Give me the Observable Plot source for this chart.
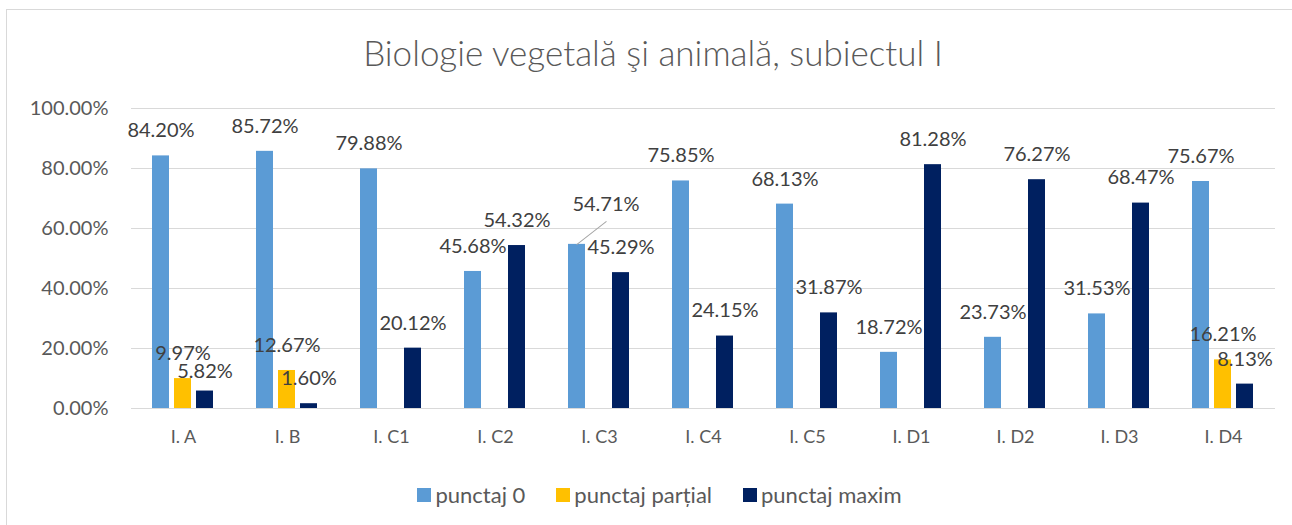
<!DOCTYPE html>
<html>
<head>
<meta charset="utf-8">
<script src="https://cdn.jsdelivr.net/npm/d3@7"></script>
<script src="https://cdn.jsdelivr.net/npm/@observablehq/plot@0.6"></script>
<style>
  html, body { margin: 0; padding: 0; background: #fff; width: 1292px; height: 525px; overflow: hidden; }
  body { position: relative; font-family: Lato, "Open Sans", sans-serif; }
  #frame { position: absolute; left: 6px; top: 9px; width: 1300px; height: 530px; border: 1px solid #d9d9d9; box-sizing: border-box; }
  #title { position: absolute; left: 7px; width: 1292px; top: 33px; text-align: center; font-size: 35px; font-weight: 300; color: #595959; line-height: 39px; white-space: nowrap; }
  #chart { position: absolute; left: 0; top: 80px; }
  #legend { position: absolute; top: 482px; left: 0; width: 1319px; display: flex; justify-content: center; gap: 31px; font-size: 22px; color: #595959; line-height: 26px; }
  .item { display: flex; align-items: center; gap: 4px; }
  .sw { width: 14px; height: 14px; display: inline-block; }
</style>
</head>
<body>
<div id="frame"></div>
<div id="title">Biologie vegetală şi animală, subiectul I</div>
<div id="chart"></div>
<div id="legend"></div>
<script>
// ---- data ----
const categories = ["I. A", "I. B", "I. C1", "I. C2", "I. C3", "I. C4", "I. C5", "I. D1", "I. D2", "I. D3", "I. D4"];
const seriesNames = ["punctaj 0", "punctaj parțial", "punctaj maxim"];
const punctaj0 = [84.20, 85.72, 79.88, 45.68, 54.71, 75.85, 68.13, 18.72, 23.73, 31.53, 75.67];
const punctajPartial = [9.97, 12.67, null, null, null, null, null, null, null, null, 16.21];
const punctajMaxim = [5.82, 1.60, 20.12, 54.32, 45.29, 24.15, 31.87, 81.28, 76.27, 68.47, 8.13];
const yTicks = [0, 20, 40, 60, 80, 100];
const colors = ["#5B9BD5", "#FFC000", "#002060"];

// ---- table ----
const seriesValues = [punctaj0, punctajPartial, punctajMaxim];
const table = [];
categories.forEach((c, i) => {
  seriesNames.forEach((s, j) => {
    table.push({category: c, series: s, value: seriesValues[j][i]});
  });
});
const shown = table.filter(d => d.value != null);
const fmt = v => v.toFixed(2) + "%";

// label nudges (pixel offsets) for labels moved in the original
const nudges = {"I. A|punctaj maxim": [0, -19], "I. C3|punctaj 0": [29, -40]};
const key = d => d.category + "|" + d.series;

const labelFont = 20;
const marks = [
  Plot.gridY(yTicks, {stroke: "#d9d9d9", strokeOpacity: 1, strokeWidth: 1}),
  Plot.barY(shown, {fx: "category", x: "series", y: "value", fill: "series"}),
  Plot.text(shown.filter(d => !(key(d) in nudges)), {
    fx: "category", x: "series", y: "value", text: d => fmt(d.value),
    dy: -25, lineAnchor: "middle", fontSize: labelFont, fill: "#404040"
  })
];
for (const [k, [dx, dy]] of Object.entries(nudges)) {
  marks.push(Plot.text(shown.filter(d => key(d) === k), {
    fx: "category", x: "series", y: "value", text: d => fmt(d.value),
    dx, dy, lineAnchor: "middle", fontSize: labelFont, fill: "#404040"
  }));
}
// leader line for the moved C3 label
marks.push(Plot.vector(shown.filter(d => key(d) === "I. C3|punctaj 0"), {
  fx: "category", x: "series", y: "value", length: 37, rotate: 52, anchor: "start",
  stroke: "#a6a6a6", strokeWidth: 1,
  shape: {draw(context, l) { context.moveTo(0, 0); context.lineTo(0, -l); }}
}));
marks.push(Plot.axisY(yTicks, {
  tickSize: 0, tickPadding: 23, tickFormat: fmt, fontSize: 20, fill: "#595959", label: null
}));
marks.push(Plot.axisFx({anchor: "bottom", tickSize: 0, tickPadding: 22, fontSize: 18, fill: "#595959", label: null}));

const chart = Plot.plot({
  width: 1292,
  height: 370,
  marginLeft: 130,
  marginRight: 17,
  marginTop: 28,
  marginBottom: 42,
  style: {fontFamily: "Lato, 'Open Sans', sans-serif", background: "transparent", overflow: "visible"},
  fx: {domain: categories, padding: 0, label: null},
  x: {domain: seriesNames, paddingInner: 0.21, paddingOuter: 0.89, axis: null},
  y: {domain: [0, 100], label: null},
  color: {domain: seriesNames, range: colors},
  marks
});
document.getElementById("chart").appendChild(chart);

// legend
const legend = document.getElementById("legend");
seriesNames.forEach((s, i) => {
  const item = document.createElement("div");
  item.className = "item";
  const sw = document.createElement("span");
  sw.className = "sw";
  sw.style.background = colors[i];
  const t = document.createElement("span");
  t.textContent = s;
  item.appendChild(sw);
  item.appendChild(t);
  legend.appendChild(item);
});
</script>
</body>
</html>
